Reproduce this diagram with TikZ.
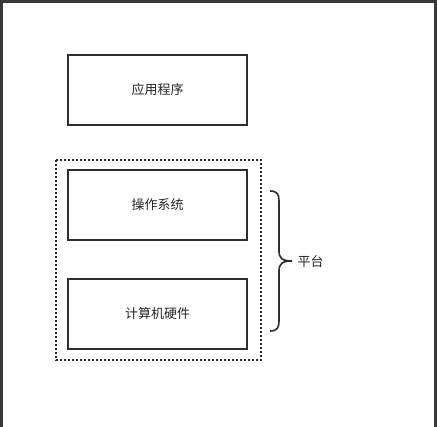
\documentclass[tikz,border=0pt]{standalone}
\usepackage{fontspec}
\newfontfamily\cjk{Noto Sans CJK SC}
\tikzset{
  layerbox/.style={draw=black!82, line width=1.6pt, minimum width=179pt, minimum height=70pt, inner sep=0pt, font=\cjk\fontsize{13}{15}\selectfont, text=black!85},
  platformbox/.style={draw=black!85, line width=2pt, dash pattern=on 2pt off 2pt},
}
\begin{document}
\begin{tikzpicture}[x=1pt,y=-1pt]
\useasboundingbox (0,0) rectangle (437,427);
% frame
  \fill[black!78] (0,0) rectangle (437,427);
  \fill[white] (3,3) rectangle (434,427);

% the layers
  \node[layerbox] (app) at (157.5,90) {应用程序};
  \node[layerbox] (os) at (157.5,205) {操作系统};
  \node[layerbox] (hw) at (157.5,314) {计算机硬件};

% platform group
  \draw[platformbox] (56,160) rectangle (261,360);

% brace
  \draw[line width=1.6pt, black!82] (270,191) .. controls (277,191) and (279,194) .. (279,201) -- (279,251)
    .. controls (279,258) and (282,261) .. (292,261)
    .. controls (282,261) and (279,264) .. (279,271) -- (279,321)
    .. controls (279,328) and (277,331) .. (270,331);
  \node[font=\cjk\fontsize{13}{15}\selectfont, text=black!85, anchor=west] (plat) at (294,262) {平台};
\end{tikzpicture}
\end{document}
